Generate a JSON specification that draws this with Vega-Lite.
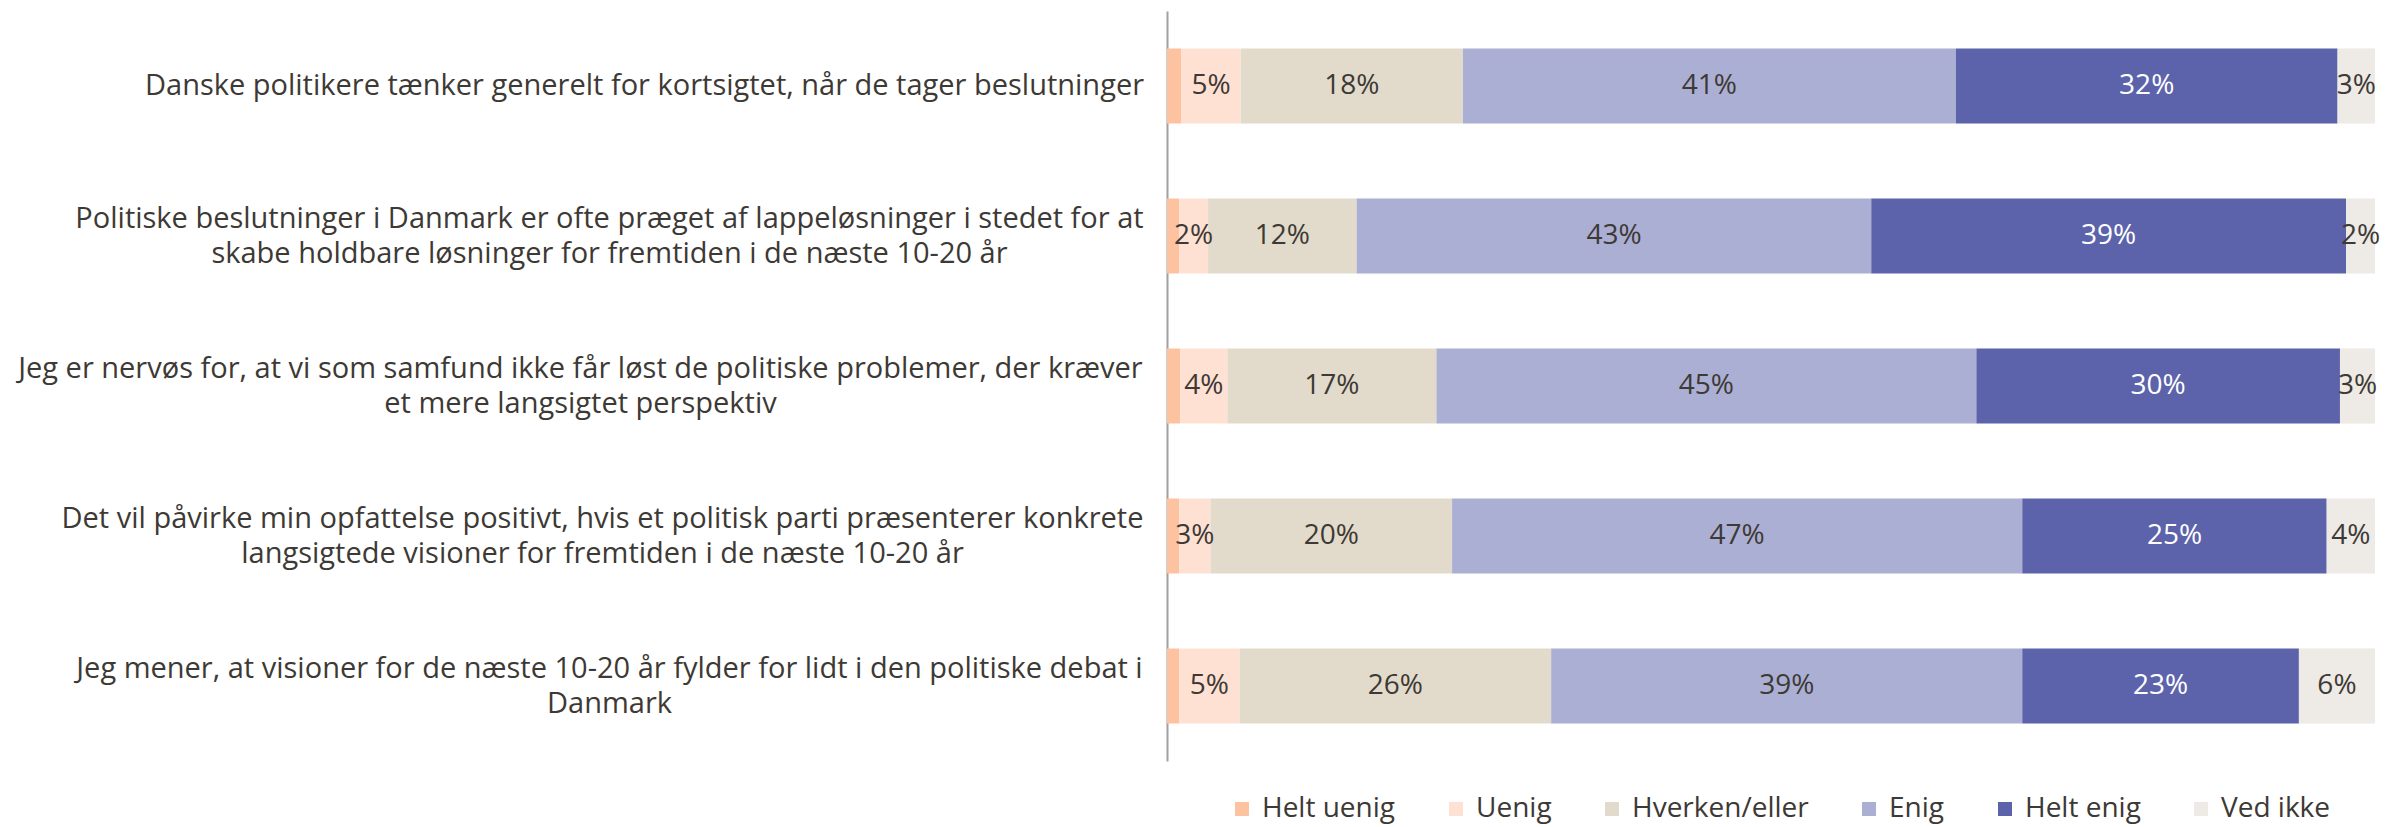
{
  "$schema": "https://vega.github.io/schema/vega-lite/v6.json",
  "width": 1208,
  "height": 750,
  "autosize": {"type": "none"},
  "padding": {"left": 1167, "top": 11, "right": 12, "bottom": 66},
  "config": {"view": {"stroke": null}, "font": "Open Sans"},
  "data": {
    "values": [
      {"q": "Danske politikere tænker generelt for kortsigtet, når de tager beslutninger", "cat": "Helt uenig", "value": 0.012},
      {"q": "Danske politikere tænker generelt for kortsigtet, når de tager beslutninger", "cat": "Uenig", "value": 0.049},
      {"q": "Danske politikere tænker generelt for kortsigtet, når de tager beslutninger", "cat": "Hverken/eller", "value": 0.184},
      {"q": "Danske politikere tænker generelt for kortsigtet, når de tager beslutninger", "cat": "Enig", "value": 0.408},
      {"q": "Danske politikere tænker generelt for kortsigtet, når de tager beslutninger", "cat": "Helt enig", "value": 0.316},
      {"q": "Danske politikere tænker generelt for kortsigtet, når de tager beslutninger", "cat": "Ved ikke", "value": 0.031},
      {"q": "Politiske beslutninger i Danmark er ofte præget af lappeløsninger i stedet for at|skabe holdbare løsninger for fremtiden i de næste 10-20 år", "cat": "Helt uenig", "value": 0.010},
      {"q": "Politiske beslutninger i Danmark er ofte præget af lappeløsninger i stedet for at|skabe holdbare løsninger for fremtiden i de næste 10-20 år", "cat": "Uenig", "value": 0.024},
      {"q": "Politiske beslutninger i Danmark er ofte præget af lappeløsninger i stedet for at|skabe holdbare løsninger for fremtiden i de næste 10-20 år", "cat": "Hverken/eller", "value": 0.123},
      {"q": "Politiske beslutninger i Danmark er ofte præget af lappeløsninger i stedet for at|skabe holdbare løsninger for fremtiden i de næste 10-20 år", "cat": "Enig", "value": 0.426},
      {"q": "Politiske beslutninger i Danmark er ofte præget af lappeløsninger i stedet for at|skabe holdbare løsninger for fremtiden i de næste 10-20 år", "cat": "Helt enig", "value": 0.393},
      {"q": "Politiske beslutninger i Danmark er ofte præget af lappeløsninger i stedet for at|skabe holdbare løsninger for fremtiden i de næste 10-20 år", "cat": "Ved ikke", "value": 0.024},
      {"q": "Jeg er nervøs for, at vi som samfund ikke får løst de politiske problemer, der kræver|et mere langsigtet perspektiv", "cat": "Helt uenig", "value": 0.011},
      {"q": "Jeg er nervøs for, at vi som samfund ikke får løst de politiske problemer, der kræver|et mere langsigtet perspektiv", "cat": "Uenig", "value": 0.039},
      {"q": "Jeg er nervøs for, at vi som samfund ikke får løst de politiske problemer, der kræver|et mere langsigtet perspektiv", "cat": "Hverken/eller", "value": 0.173},
      {"q": "Jeg er nervøs for, at vi som samfund ikke får løst de politiske problemer, der kræver|et mere langsigtet perspektiv", "cat": "Enig", "value": 0.447},
      {"q": "Jeg er nervøs for, at vi som samfund ikke får løst de politiske problemer, der kræver|et mere langsigtet perspektiv", "cat": "Helt enig", "value": 0.301},
      {"q": "Jeg er nervøs for, at vi som samfund ikke får løst de politiske problemer, der kræver|et mere langsigtet perspektiv", "cat": "Ved ikke", "value": 0.029},
      {"q": "Det vil påvirke min opfattelse positivt, hvis et politisk parti præsenterer konkrete|langsigtede visioner for fremtiden i de næste 10-20 år", "cat": "Helt uenig", "value": 0.010},
      {"q": "Det vil påvirke min opfattelse positivt, hvis et politisk parti præsenterer konkrete|langsigtede visioner for fremtiden i de næste 10-20 år", "cat": "Uenig", "value": 0.026},
      {"q": "Det vil påvirke min opfattelse positivt, hvis et politisk parti præsenterer konkrete|langsigtede visioner for fremtiden i de næste 10-20 år", "cat": "Hverken/eller", "value": 0.200},
      {"q": "Det vil påvirke min opfattelse positivt, hvis et politisk parti præsenterer konkrete|langsigtede visioner for fremtiden i de næste 10-20 år", "cat": "Enig", "value": 0.472},
      {"q": "Det vil påvirke min opfattelse positivt, hvis et politisk parti præsenterer konkrete|langsigtede visioner for fremtiden i de næste 10-20 år", "cat": "Helt enig", "value": 0.252},
      {"q": "Det vil påvirke min opfattelse positivt, hvis et politisk parti præsenterer konkrete|langsigtede visioner for fremtiden i de næste 10-20 år", "cat": "Ved ikke", "value": 0.040},
      {"q": "Jeg mener, at visioner for de næste 10-20 år fylder for lidt i den politiske debat i|Danmark", "cat": "Helt uenig", "value": 0.010},
      {"q": "Jeg mener, at visioner for de næste 10-20 år fylder for lidt i den politiske debat i|Danmark", "cat": "Uenig", "value": 0.050},
      {"q": "Jeg mener, at visioner for de næste 10-20 år fylder for lidt i den politiske debat i|Danmark", "cat": "Hverken/eller", "value": 0.258},
      {"q": "Jeg mener, at visioner for de næste 10-20 år fylder for lidt i den politiske debat i|Danmark", "cat": "Enig", "value": 0.390},
      {"q": "Jeg mener, at visioner for de næste 10-20 år fylder for lidt i den politiske debat i|Danmark", "cat": "Helt enig", "value": 0.229},
      {"q": "Jeg mener, at visioner for de næste 10-20 år fylder for lidt i den politiske debat i|Danmark", "cat": "Ved ikke", "value": 0.063}
    ]
  },
  "transform": [
    {"calculate": "indexof(['Helt uenig', 'Uenig', 'Hverken/eller', 'Enig', 'Helt enig', 'Ved ikke'], datum.cat)", "as": "catOrder"}
  ],
  "encoding": {
    "y": {
      "field": "q",
      "type": "nominal",
      "sort": null,
      "scale": {"paddingInner": 0.5, "paddingOuter": 0.25},
      "axis": {
        "title": null,
        "ticks": false,
        "domainColor": "#a0a0a0",
        "domainWidth": 2,
        "labelFont": "Open Sans",
        "labelFontSize": 29,
        "labelColor": "#3d3935",
        "labelLimit": 0,
        "labelAlign": "center",
        "labelPadding": {
          "condition": [
            {"test": "indexof(datum.value, 'Danske') === 0", "value": 523},
            {"test": "indexof(datum.value, 'Politiske') === 0", "value": 558},
            {"test": "indexof(datum.value, 'Jeg er') === 0", "value": 587},
            {"test": "indexof(datum.value, 'Det vil') === 0", "value": 565}
          ],
          "value": 558
        },
        "labelLineHeight": 35,
        "labelOffset": {"condition": {"test": "indexof(datum.value, '|') >= 0", "value": -17}, "value": 0},
        "labelExpr": "split(datum.label, '|')"
      }
    },
    "x": {
      "field": "value",
      "type": "quantitative",
      "stack": "normalize",
      "axis": null,
      "scale": {"domain": [0, 1]}
    },
    "order": {"field": "catOrder", "type": "quantitative", "sort": "ascending"},
    "color": {
      "field": "cat",
      "type": "nominal",
      "scale": {
        "domain": ["Helt uenig", "Uenig", "Hverken/eller", "Enig", "Helt enig", "Ved ikke"],
        "range": ["#fdc3a0", "#ffe1d3", "#e2dbcb", "#acafd4", "#5c63ab", "#eeeae5"]
      },
      "legend": {
        "title": null,
        "orient": "none",
        "legendX": 61,
        "legendY": 784,
        "direction": "horizontal",
        "labelFont": "Open Sans",
        "labelFontSize": 28,
        "labelColor": "#3d3935",
        "labelLimit": 0,
        "symbolType": "square",
        "symbolSize": 196,
        "symbolStrokeWidth": 0,
        "symbolOpacity": 1,
        "labelOffset": 6,
        "columnPadding": 46
      }
    }
  },
  "layer": [
    {"mark": {"type": "bar", "opacity": 1}},
    {
      "mark": {"type": "text", "font": "Open Sans", "fontSize": 28},
      "encoding": {
        "x": {"field": "value", "type": "quantitative", "stack": "normalize", "bandPosition": 0.5},
        "text": {
          "condition": {"test": "datum.cat === 'Helt uenig'", "value": ""},
          "field": "value",
          "type": "quantitative",
          "format": ".0%"
        },
        "fill": {
          "condition": {"test": "datum.cat === 'Helt enig'", "value": "#ffffff"},
          "value": "#3d3935"
        }
      }
    }
  ]
}
